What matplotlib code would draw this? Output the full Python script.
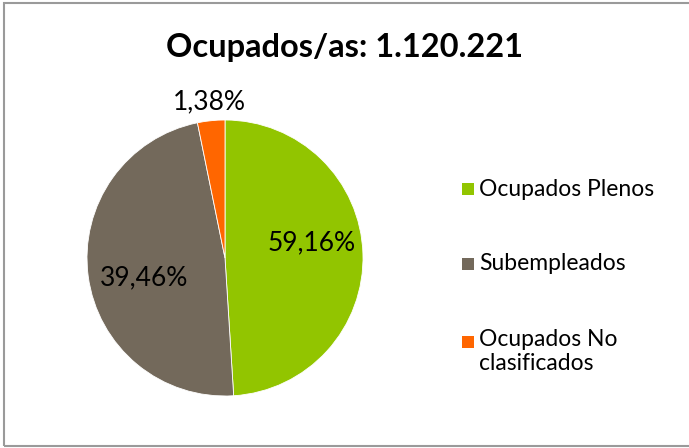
import numpy as np
import matplotlib
matplotlib.use('Agg')
from matplotlib import pyplot as plt
from matplotlib.patches import Rectangle

plt.rcParams['font.family'] = ['Lato', 'DejaVu Sans']

# data (slice sizes as drawn, labels as printed)
categorias = ['Ocupados Plenos', 'Subempleados', 'Ocupados No\nclasificados']
tamanos = [49.0, 47.8, 3.2]
etiquetas = ['59,16%', '39,46%', '1,38%']
colores = ['#92C500', '#73695B', '#FF6600']
titulo = 'Ocupados/as: 1.120.221'

fig = plt.figure(figsize=(6.89, 4.48), dpi=100)
fig.patch.set_facecolor('white')

# outer border of the chart area
fig.patches.append(Rectangle((4/689., 2/448.), 1.0, 443/448., transform=fig.transFigure,
                             fill=False, edgecolor='#9a9a9a', lw=1.5))

ax = fig.add_axes([87/689., (448-258-138)/448., 276/689., 276/448.])
wedges, _ = ax.pie(tamanos, colors=colores, startangle=90, counterclock=False,
                   wedgeprops={'edgecolor': 'white', 'linewidth': 0.6})
ax.set_xlim(-1, 1)
ax.set_ylim(-1, 1)
ax.set_aspect('equal')

radios = [0.64, 0.60, 1.14]
ajuste = [8, 6, 0]
for w, lab, r, da in zip(wedges, etiquetas, radios, ajuste):
    ang = np.deg2rad((w.theta1 + w.theta2) / 2. + da)
    ax.text(r*np.cos(ang), r*np.sin(ang), lab, ha='center', va='center',
            fontsize=19, color='black', clip_on=False)

fig.text(345/689., 1 - 47/448., titulo, ha='center', va='center',
         fontsize=23.5, fontweight='bold')

ys = [189, 264, 342]
for c, lab, y in zip(colores, categorias, ys):
    fig.patches.append(Rectangle((462/689., 1 - (y+6)/448.), 12/689., 12/448.,
                                 transform=fig.transFigure, facecolor=c, edgecolor='none'))
    if '\n' in lab:
        fig.text(479/689., 1 - (y-13)/448., lab, ha='left', va='top',
                 fontsize=16.5, linespacing=1.15)
    else:
        fig.text(479/689., 1 - y/448., lab, ha='left', va='center', fontsize=16.5)

fig.savefig('out.png', dpi=100)
